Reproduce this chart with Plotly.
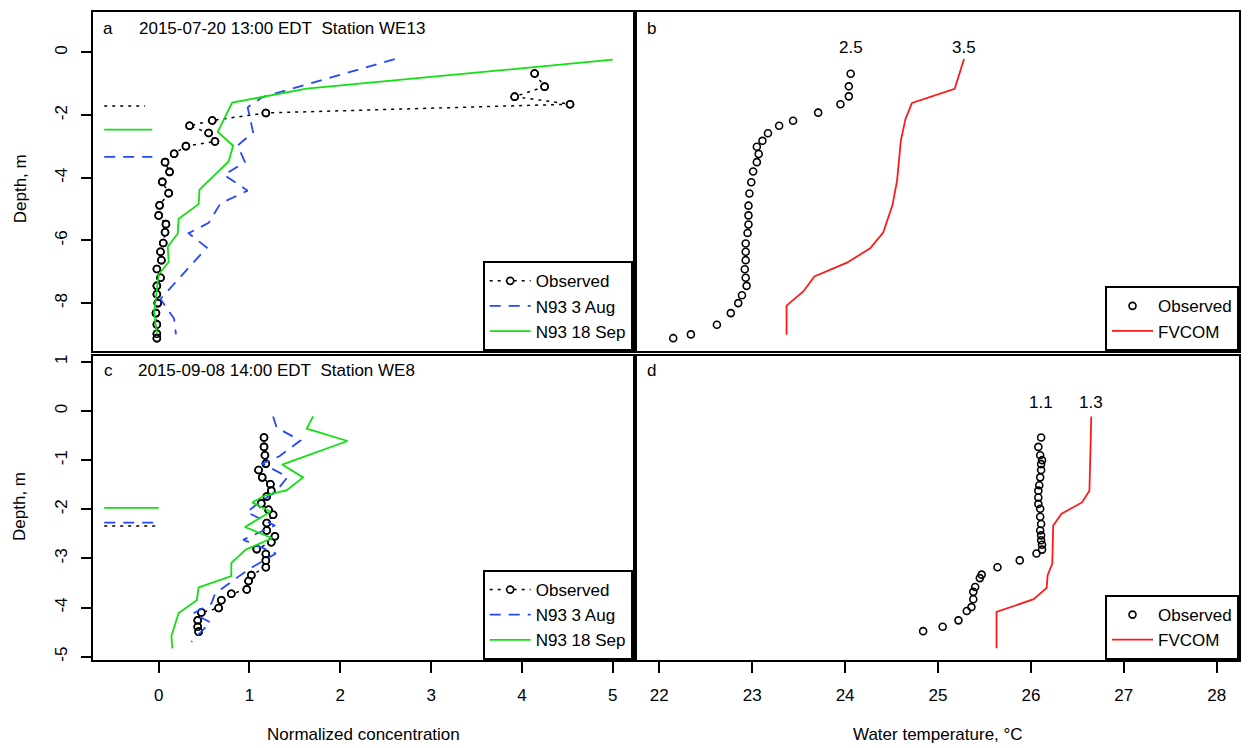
import plotly.graph_objects as go

W, H = 1248, 748

# ---------------- Station WE13, 2015-07-20 13:00 EDT ----------------
we13_obs_depth = [-0.67, -1.09, -1.41, -1.65, -1.93, -2.17, -2.34, -2.57, -2.84, -2.99,
                  -3.23, -3.50, -3.81, -4.13, -4.49, -4.88, -5.20, -5.48, -5.74, -6.08,
                  -6.36, -6.63, -6.91, -7.19, -7.45, -7.72, -8.00, -8.32, -8.68, -8.98, -9.12]
we13_obs_conc = [4.14, 4.25, 3.92, 4.53, 1.18, 0.59, 0.34, 0.55, 0.62, 0.30,
                 0.17, 0.07, 0.12, 0.04, 0.11, 0.01, 0.00, 0.08, 0.07, 0.05,
                 0.02, 0.03, -0.02, 0.02, -0.02, -0.02, -0.01, -0.03, -0.02, -0.02, -0.02]
we13_temp_depth = [-0.68, -1.08, -1.40, -1.65, -1.92, -2.18, -2.34, -2.58, -2.82, -3.01,
                   -3.24, -3.50, -3.80, -4.14, -4.50, -4.89, -5.20, -5.49, -5.76, -6.10,
                   -6.36, -6.63, -6.92, -7.19, -7.45, -7.75, -8.00, -8.32, -8.69, -9.00, -9.12]
we13_obs_temp = [24.06, 24.04, 24.04, 23.95, 23.71, 23.44, 23.29, 23.17, 23.11, 23.05,
                 23.07, 23.05, 23.01, 22.99, 22.97, 22.96, 22.96, 22.96, 22.95, 22.93,
                 22.93, 22.93, 22.92, 22.93, 22.94, 22.89, 22.85, 22.77, 22.62, 22.34, 22.15]

we13_aug_depth = [-0.21, -1.43, -1.75, -2.55, -2.97, -3.50, -3.91, -4.41, -4.82, -5.44,
                  -5.77, -6.23, -7.87, -8.50, -9.00]
we13_aug_conc = [2.60, 1.14, 0.98, 1.04, 0.87, 0.95, 0.72, 0.98, 0.68, 0.55,
                 0.33, 0.53, 0.02, 0.17, 0.19]
we13_sep_depth = [-0.23, -1.15, -1.60, -2.53, -2.98, -3.48, -4.38, -4.84, -5.31, -5.78,
                  -6.20, -6.69, -7.08, -7.77, -8.30, -8.98]
we13_sep_conc = [5.00, 1.63, 0.81, 0.65, 0.82, 0.77, 0.45, 0.44, 0.22, 0.21,
                 0.10, 0.11, 0.00, -0.03, -0.05, -0.02]

we13_fvcom_depth = [-0.21, -1.16, -1.61, -2.12, -2.81, -4.08, -4.87, -5.75, -6.25, -6.71,
                    -7.15, -7.63, -8.08, -9.01]
we13_fvcom_temp = [25.28, 25.18, 24.72, 24.65, 24.60, 24.56, 24.51, 24.41, 24.27, 24.02,
                   23.67, 23.55, 23.37, 23.37]

# mixed-layer depths drawn as short bars at the left edge: observed, N93 3 Aug, N93 18 Sep
we13_mld = [-1.71, -3.33, -2.46]
we13_mld_x0 = [-0.60, -0.60, -0.60]
we13_mld_x1 = [-0.15, -0.07, -0.07]
we13_labels = ["2.5", "3.5"]

# ---------------- Station WE8, 2015-09-08 14:00 EDT ----------------
we8_obs_depth = [-0.54, -0.73, -0.90, -1.07, -1.20, -1.35, -1.49, -1.62, -1.74, -1.88,
                 -2.01, -2.11, -2.28, -2.43, -2.55, -2.67, -2.81, -2.91, -3.04, -3.18,
                 -3.34, -3.46, -3.63, -3.72, -3.85, -4.01, -4.10, -4.26, -4.39, -4.49]
we8_obs_conc = [1.16, 1.16, 1.17, 1.18, 1.10, 1.14, 1.23, 1.24, 1.19, 1.13,
                1.21, 1.26, 1.19, 1.19, 1.28, 1.24, 1.08, 1.18, 1.18, 1.18,
                1.02, 0.99, 0.97, 0.80, 0.69, 0.66, 0.47, 0.43, 0.43, 0.44]
we8_temp_depth = [-0.54, -0.73, -0.90, -1.00, -1.08, -1.20, -1.35, -1.51, -1.62, -1.76,
                  -1.89, -1.99, -2.15, -2.30, -2.43, -2.53, -2.63, -2.72, -2.82, -2.90,
                  -3.04, -3.18, -3.33, -3.40, -3.58, -3.68, -3.83, -3.99, -4.07, -4.26,
                  -4.39, -4.48]
we8_obs_temp = [26.11, 26.08, 26.10, 26.12, 26.11, 26.11, 26.10, 26.09, 26.08, 26.08,
                26.08, 26.10, 26.10, 26.11, 26.10, 26.11, 26.11, 26.12, 26.12, 26.06,
                25.88, 25.64, 25.47, 25.45, 25.40, 25.38, 25.38, 25.36, 25.31, 25.22,
                25.05, 24.84]

we8_aug_depth = [-0.11, -0.34, -0.60, -0.92, -1.07, -1.34, -1.62, -1.90, -2.06, -2.33,
                 -2.62, -2.90, -3.18, -3.38, -3.72, -3.92, -4.12, -4.30, -4.70]
we8_aug_conc = [1.26, 1.30, 1.56, 1.33, 1.14, 1.42, 1.30, 1.08, 0.97, 1.28,
                0.93, 1.29, 1.03, 0.87, 0.62, 0.58, 0.38, 0.57, 0.36]
we8_sep_depth = [-0.11, -0.36, -0.61, -1.09, -1.35, -1.61, -1.72, -1.86, -2.05, -2.36,
                 -2.59, -2.82, -3.09, -3.36, -3.59, -3.85, -4.11, -4.58, -4.83]
we8_sep_conc = [1.70, 1.63, 2.08, 1.36, 1.59, 1.41, 1.17, 1.03, 1.23, 0.95,
                1.25, 0.96, 0.80, 0.80, 0.44, 0.42, 0.22, 0.14, 0.15]

we8_fvcom_depth = [-0.11, -1.62, -1.86, -2.09, -2.33, -3.11, -3.34, -3.60, -3.83, -4.09, -4.83]
we8_fvcom_temp = [26.65, 26.63, 26.55, 26.33, 26.24, 26.23, 26.18, 26.17, 26.03, 25.63, 25.63]

we8_mld = [-2.34, -2.27, -1.97]
we8_mld_x0 = [-0.60, -0.60, -0.60]
we8_mld_x1 = [-0.01, -0.03, 0.00]
we8_labels = ["1.1", "1.3"]

conc_ticks = [0, 1, 2, 3, 4, 5]
temp_ticks = [22, 23, 24, 25, 26, 27, 28]
depth_ticks_top = [-8, -6, -4, -2, 0]
depth_ticks_bot = [-5, -4, -3, -2, -1, 0, 1]

# ---------------- styling ----------------
FONT = "Arial, Liberation Sans, sans-serif"
FS = 17
BLACK = "black"
BLUE = "#2347ff"
GREEN = "#11e011"
RED = "#ff1a1a"
LW = 1.8
DOT = "3px,5px"
DASH = "11px,8px"
MSIZE = 7

fig = go.Figure()


def observed_profile(x, y, xa, ya, leg, show):
    # dotted connecting line with masked gaps under the points
    fig.add_trace(go.Scatter(
        x=x, y=y, xaxis=xa, yaxis=ya, mode="lines+markers", name="Observed",
        legend=leg, showlegend=show,
        line=dict(color=BLACK, width=1.5, dash=DOT),
        marker=dict(symbol="circle", size=MSIZE, color="white",
                    line=dict(color=BLACK, width=1.6))))
    fig.add_trace(go.Scatter(
        x=x, y=y, xaxis=xa, yaxis=ya, mode="markers", showlegend=False, legend=leg,
        marker=dict(symbol="circle-open", size=MSIZE, color=BLACK,
                    line=dict(width=1.6)), hoverinfo="skip"))


def mld_bars(depths, x0, x1, xa, ya):
    styles = [dict(color=BLACK, width=1.5, dash=DOT),
              dict(color=BLUE, width=LW, dash=DASH),
              dict(color=GREEN, width=LW)]
    for d, a, b, st in zip(depths, x0, x1, styles):
        fig.add_trace(go.Scatter(x=[a, b], y=[d, d], xaxis=xa, yaxis=ya, mode="lines",
                                 line=st, showlegend=False, hoverinfo="skip"))


# Panel a
mld_bars(we13_mld, we13_mld_x0, we13_mld_x1, "x", "y")
observed_profile(we13_obs_conc, we13_obs_depth, "x", "y", "legend", True)
fig.add_trace(go.Scatter(x=we13_aug_conc, y=we13_aug_depth, xaxis="x", yaxis="y",
                         mode="lines", name="N93 3 Aug", legend="legend",
                         line=dict(color=BLUE, width=LW, dash=DASH)))
fig.add_trace(go.Scatter(x=we13_sep_conc, y=we13_sep_depth, xaxis="x", yaxis="y",
                         mode="lines", name="N93 18 Sep", legend="legend",
                         line=dict(color=GREEN, width=LW)))

# Panel b
fig.add_trace(go.Scatter(x=we13_obs_temp, y=we13_temp_depth, xaxis="x2", yaxis="y2",
                         mode="markers", name="Observed", legend="legend2",
                         marker=dict(symbol="circle-open", size=MSIZE, color=BLACK,
                                     line=dict(width=1.6))))
fig.add_trace(go.Scatter(x=we13_fvcom_temp, y=we13_fvcom_depth, xaxis="x2", yaxis="y2",
                         mode="lines", name="FVCOM", legend="legend2",
                         line=dict(color=RED, width=LW)))

# Panel c
mld_bars(we8_mld, we8_mld_x0, we8_mld_x1, "x3", "y3")
observed_profile(we8_obs_conc, we8_obs_depth, "x3", "y3", "legend3", True)
fig.add_trace(go.Scatter(x=we8_aug_conc, y=we8_aug_depth, xaxis="x3", yaxis="y3",
                         mode="lines", name="N93 3 Aug", legend="legend3",
                         line=dict(color=BLUE, width=LW, dash=DASH)))
fig.add_trace(go.Scatter(x=we8_sep_conc, y=we8_sep_depth, xaxis="x3", yaxis="y3",
                         mode="lines", name="N93 18 Sep", legend="legend3",
                         line=dict(color=GREEN, width=LW)))

# Panel d
fig.add_trace(go.Scatter(x=we8_obs_temp, y=we8_temp_depth, xaxis="x4", yaxis="y4",
                         mode="markers", name="Observed", legend="legend4",
                         marker=dict(symbol="circle-open", size=MSIZE, color=BLACK,
                                     line=dict(width=1.6))))
fig.add_trace(go.Scatter(x=we8_fvcom_temp, y=we8_fvcom_depth, xaxis="x4", yaxis="y4",
                         mode="lines", name="FVCOM", legend="legend4",
                         line=dict(color=RED, width=LW)))

# ---------------- axes ----------------
XL = [93.3 / W, 632.7 / W]
XR = [637.0 / W, 1239.0 / W]
YT = [1 - 351.7 / H, 1 - 10.7 / H]
YB = [1 - 661.7 / H, 1 - 356.0 / H]
RANGE_CONC = [-0.72, 5.22]
RANGE_TEMP = [21.76, 28.24]
RANGE_DT = [-9.539, 1.304]
RANGE_DB = [-5.068, 1.129]

box = dict(showline=True, linecolor=BLACK, linewidth=2, mirror=True,
           showgrid=False, zeroline=False, fixedrange=True)
tick_font = dict(family=FONT, size=FS, color=BLACK)


def label_ticks(vals):
    return [str(v) for v in vals]


fig.update_layout(
    xaxis=dict(domain=XL, range=RANGE_CONC, anchor="y", showticklabels=False, ticks="", **box),
    yaxis=dict(domain=YT, range=RANGE_DT, anchor="x", tickvals=depth_ticks_top,
               ticktext=label_ticks(depth_ticks_top), ticks="outside", ticklen=10,
               tickwidth=1.5, tickcolor=BLACK, tickangle=-90, tickfont=tick_font,
               ticklabelstandoff=8, **box),
    xaxis2=dict(domain=XR, range=RANGE_TEMP, anchor="y2", showticklabels=False, ticks="", **box),
    yaxis2=dict(domain=YT, range=RANGE_DT, anchor="x2", showticklabels=False, ticks="", **box),
    xaxis3=dict(domain=XL, range=RANGE_CONC, anchor="y3", tickvals=conc_ticks,
                ticktext=label_ticks(conc_ticks), ticks="outside", ticklen=11, tickwidth=1.5,
                tickcolor=BLACK, tickfont=tick_font, ticklabelstandoff=8, **box),
    yaxis3=dict(domain=YB, range=RANGE_DB, anchor="x3", tickvals=depth_ticks_bot,
                ticktext=label_ticks(depth_ticks_bot), ticks="outside", ticklen=10,
                tickwidth=1.5, tickcolor=BLACK, tickangle=-90, tickfont=tick_font,
                ticklabelstandoff=8, **box),
    xaxis4=dict(domain=XR, range=RANGE_TEMP, anchor="y4", tickvals=temp_ticks,
                ticktext=label_ticks(temp_ticks), ticks="outside", ticklen=11, tickwidth=1.5,
                tickcolor=BLACK, tickfont=tick_font, ticklabelstandoff=8, **box),
    yaxis4=dict(domain=YB, range=RANGE_DB, anchor="x4", showticklabels=False, ticks="", **box),
)

# ---------------- legends ----------------
def legend_at(x_px, y_px):
    return dict(x=x_px / W, y=1 - y_px / H, xanchor="right", yanchor="bottom",
                xref="paper", yref="paper", bgcolor="white", bordercolor=BLACK,
                borderwidth=2, font=dict(family=FONT, size=FS, color=BLACK),
                tracegroupgap=0, itemwidth=41)


fig.update_layout(
    legend=legend_at(632.7, 351.7),
    legend2=legend_at(1239.0, 351.7),
    legend3=legend_at(632.7, 661.7),
    legend4=legend_at(1239.0, 661.7),
)

# ---------------- text ----------------
ann = []


def paper_text(text, x_px, y_px, xanchor="center", angle=0):
    ann.append(dict(text=text, x=x_px / W, y=1 - y_px / H, xref="paper", yref="paper",
                    xanchor=xanchor, yanchor="middle", showarrow=False, textangle=angle,
                    font=dict(family=FONT, size=FS, color=BLACK)))


paper_text("a", 108, 27.5)
paper_text("2015-07-20 13:00 EDT\u00a0\u00a0Station WE13", 136.6, 27.5, xanchor="left")
paper_text("b", 651.5, 27.5)
paper_text("c", 108, 370.5)
paper_text("2015-09-08 14:00 EDT\u00a0\u00a0Station WE8", 135.8, 370.5, xanchor="left")
paper_text("d", 651.5, 370.5)
paper_text("Normalized concentration", 363, 736)
paper_text("Water temperature, \u00b0C", 938, 736)
paper_text("Depth, m", 20, 189, angle=-90)
paper_text("Depth, m", 20, 508, angle=-90)

for txt, xv in zip(we13_labels, [we13_obs_temp[0], we13_fvcom_temp[0]]):
    ann.append(dict(text=txt, x=xv, y=0.16, xref="x2", yref="y2", showarrow=False,
                    xanchor="center", yanchor="middle",
                    font=dict(family=FONT, size=FS, color=BLACK)))
for txt, xv in zip(we8_labels, [we8_obs_temp[0], we8_fvcom_temp[0]]):
    ann.append(dict(text=txt, x=xv, y=0.18, xref="x4", yref="y4", showarrow=False,
                    xanchor="center", yanchor="middle",
                    font=dict(family=FONT, size=FS, color=BLACK)))

fig.update_layout(
    annotations=ann,
    width=W, height=H,
    margin=dict(l=0, r=0, t=0, b=0),
    paper_bgcolor="white", plot_bgcolor="white",
    font=dict(family=FONT, size=FS, color=BLACK),
)

fig.write_html("out.html", config=dict(displayModeBar=False))
